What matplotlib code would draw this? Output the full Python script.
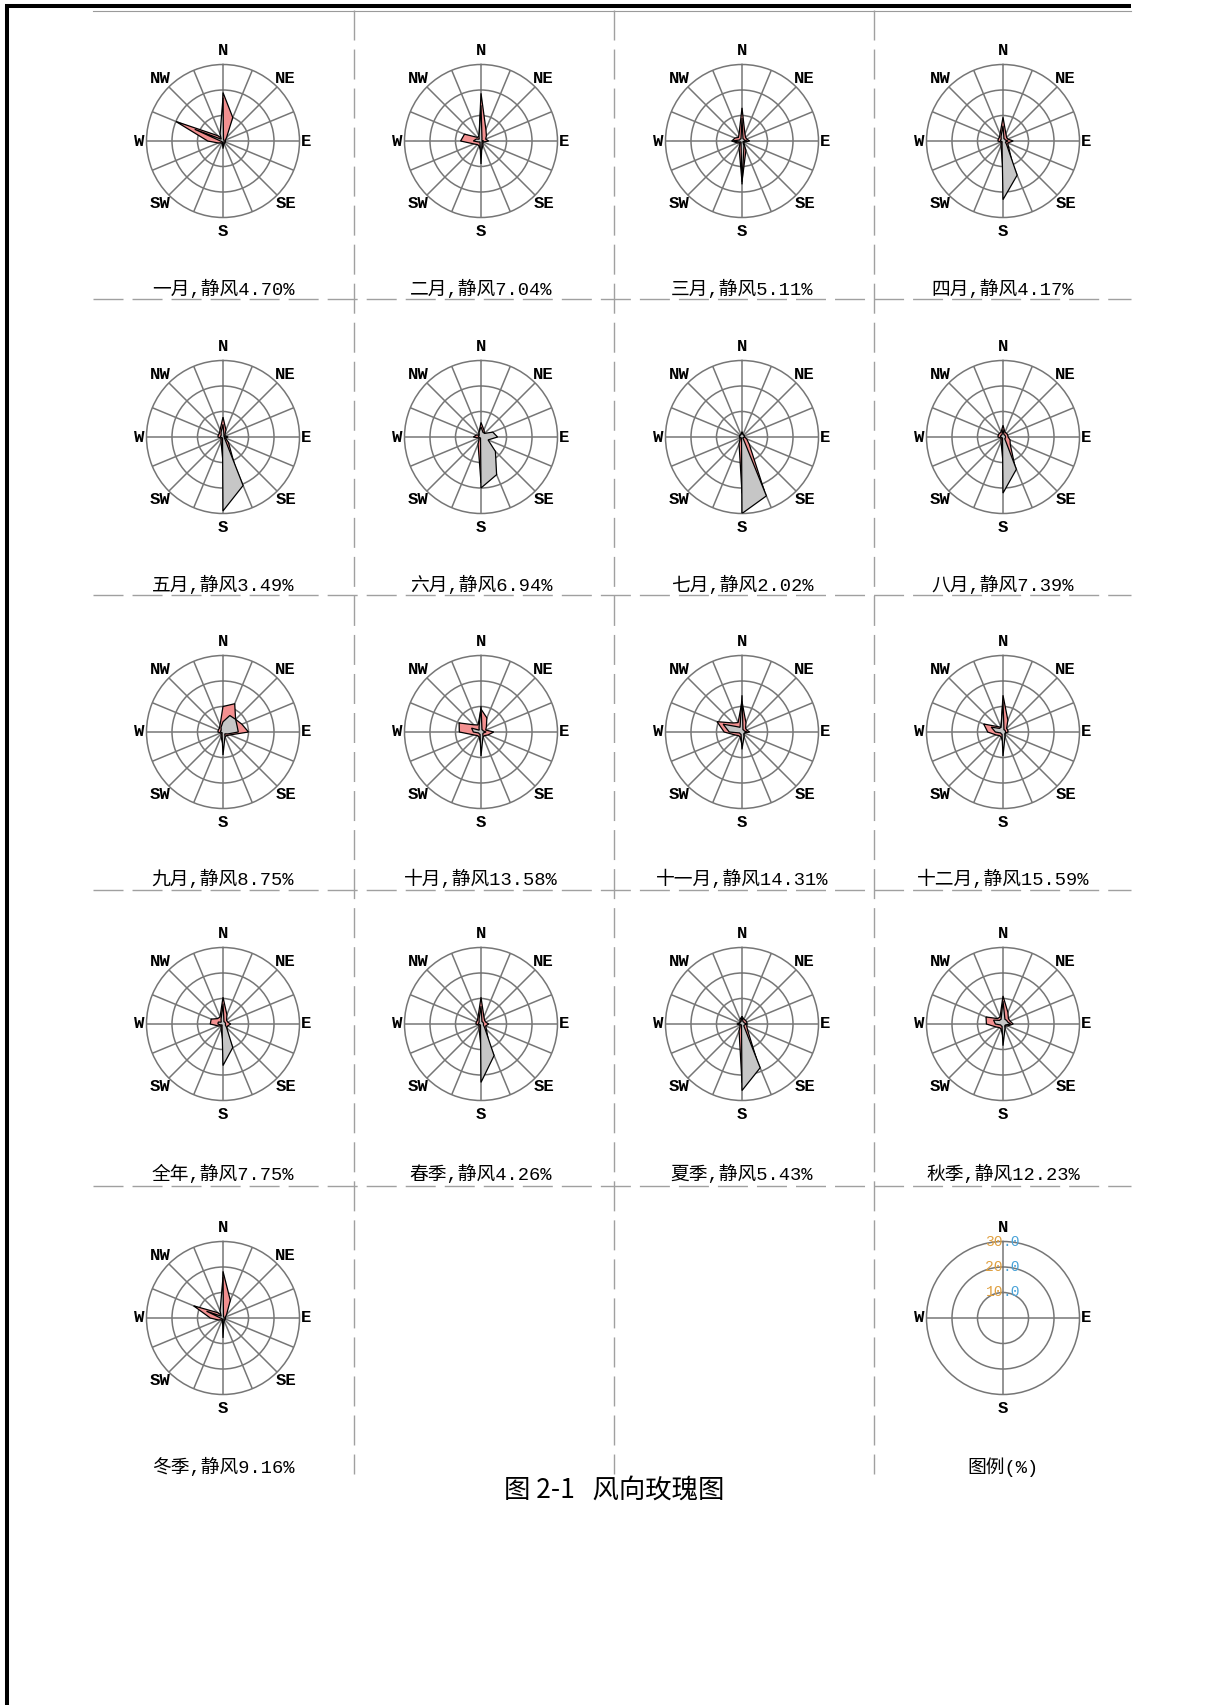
import numpy as np
import matplotlib
matplotlib.use("Agg")
import matplotlib.pyplot as plt

plt.rcParams["lines.scale_dashes"] = False

# ---------------- data ----------------
directions = ["N", "NNE", "NE", "ENE", "E", "ESE", "SE", "SSE",
              "S", "SSW", "SW", "WSW", "W", "WNW", "NW", "NNW"]
periods = ["一月", "二月", "三月", "四月", "五月", "六月", "七月", "八月",
           "九月", "十月", "十一月", "十二月", "全年", "春季", "夏季", "秋季", "冬季"]
calm_pct = [4.70, 7.04, 5.11, 4.17, 3.49, 6.94, 2.02, 7.39,
            8.75, 13.58, 14.31, 15.59, 7.75, 4.26, 5.43, 12.23, 9.16]

# series A (pink) and series B (grey), frequency in %, N clockwise
pink_jan = [19, 10, 2, 1, 1, 1, 1, 1, 2, 1, 1, 2, 6, 20, 3, 1]
gray_jan = [17, 0.5, 0.5, 0.5, 0.5, 0.5, 0.5, 1, 3, 0.5, 0.5, 0.5, 1, 12, 1, 3]
pink_feb = [18.7, 5, 3, 2, 3, 1, 1, 2, 4, 2, 2, 3, 8, 7, 2, 2]
gray_feb = [14, 1, 0.5, 0.5, 1, 0.5, 0.5, 1, 9, 1, 0.5, 1, 3, 2, 1, 2]
pink_mar = [13, 3, 2, 2, 3, 1, 1, 4, 16, 3, 1, 2, 4, 3, 2, 3]
gray_mar = [9, 1, 1, 1, 2, 0.5, 0.5, 2, 17, 1, 0.5, 1, 4, 1, 1, 1]
pink_apr = [9.3, 3, 2, 2, 4, 2, 3, 10, 12, 2, 1, 1, 2, 2, 2, 3]
gray_apr = [6, 1, 1, 1, 2, 1, 2, 14.5, 23, 1, 0.5, 0.5, 1, 1, 1, 2]
pink_may = [7.8, 3, 1, 1, 2, 1, 3, 12, 10, 2, 1, 1, 2, 2, 2, 3]
gray_may = [5, 1, 0.5, 0.5, 1, 0.5, 1, 20.6, 29, 0.5, 0.5, 0.5, 1, 1, 1, 2]
pink_jun = [5.7, 3, 2, 3, 3, 2, 3, 6, 18, 3, 1, 1, 3, 2, 1, 2]
gray_jun = [4, 2, 2, 5, 6.5, 3, 8, 16, 20, 0.5, 0.5, 0.5, 1, 1, 1, 2]
pink_jul = [2, 1, 1, 1, 1, 2, 4, 23, 22, 3, 1, 1, 1, 1, 1, 1]
gray_jul = [2, 1, 1, 1, 1, 0.5, 0.5, 25, 30, 0.5, 0.5, 0.5, 1, 1, 1, 1]
pink_aug = [4.6, 2, 2, 2, 2, 3, 4, 12, 10, 2, 1, 1, 2, 2, 2, 2]
gray_aug = [3, 1, 1, 1, 1, 1, 1, 13.7, 22, 0.5, 0.5, 0.5, 1, 1, 1, 1]
pink_sep = [10, 12, 7, 8, 10, 3, 2, 2, 5, 2, 1, 1, 2, 2, 2, 3]
gray_sep = [4, 7, 7, 6, 6, 2, 1, 2, 9, 1, 0.5, 0.5, 1, 1, 1, 2]
pink_oct = [9, 6, 3, 2, 5, 3, 2, 2, 5, 2, 2, 3, 8.5, 9.3, 4, 3]
gray_oct = [10.2, 1, 1, 1, 2, 1, 1, 2, 9.4, 1, 1, 1, 3, 4, 1, 2]
pink_nov = [12, 4, 2, 2, 3, 1, 1, 2, 5, 2, 2, 3, 7, 10.6, 5, 4]
gray_nov = [14.4, 1, 1, 1, 2, 1, 1, 2, 6.8, 1, 1, 1, 5, 8, 3, 2]
pink_dec = [14.4, 5, 2, 2, 2, 1, 1, 2, 4, 2, 2, 3, 6, 8.2, 3, 2]
gray_dec = [12, 1, 1, 1, 1, 1, 1, 2, 9.4, 1, 1, 1, 3, 5, 2, 2]
pink_year = [10.5, 4, 2, 2, 3, 2, 2, 6, 7, 2, 1, 2, 5, 5, 3, 3]
gray_year = [8, 1, 1, 1, 1, 1, 2, 10, 16.3, 1, 0.5, 1, 2, 2, 1, 2]
pink_spring = [10.5, 3, 2, 2, 3, 2, 3, 8, 9, 2, 1, 1, 2, 2, 2, 3]
gray_spring = [7, 1, 1, 1, 1, 1, 2, 13.4, 22.9, 0.5, 0.5, 0.5, 1, 1, 1, 2]
pink_summer = [3, 2, 2, 2, 2, 2, 3, 15, 23, 3, 1, 1, 2, 1, 1, 2]
gray_summer = [3, 1, 1, 1, 2, 1, 1, 18.6, 26.1, 0.5, 0.5, 0.5, 1, 1, 1, 1]
pink_autumn = [11, 5, 3, 3, 4, 2, 1, 2, 5, 2, 2, 3, 6.5, 7.2, 3, 3]
gray_autumn = [9, 2, 2, 2, 3, 1, 1, 2, 8.5, 1, 1, 1, 3, 4, 2, 2]
pink_winter = [18.3, 7.5, 2, 1, 1, 1, 1, 1, 3, 1, 1, 2, 5, 12.5, 3, 1]
gray_winter = [16, 0.5, 0.5, 0.5, 0.5, 0.5, 0.5, 1, 7.8, 0.5, 0.5, 0.5, 1, 7, 1, 3]

ring_values = [10, 20, 30]
legend_label = "图例(%)"
title_text = "图 2-1   风向玫瑰图"

pink_all = [pink_jan, pink_feb, pink_mar, pink_apr, pink_may, pink_jun, pink_jul,
            pink_aug, pink_sep, pink_oct, pink_nov, pink_dec, pink_year,
            pink_spring, pink_summer, pink_autumn, pink_winter]
gray_all = [gray_jan, gray_feb, gray_mar, gray_apr, gray_may, gray_jun, gray_jul,
            gray_aug, gray_sep, gray_oct, gray_nov, gray_dec, gray_year,
            gray_spring, gray_summer, gray_autumn, gray_winter]

# ---------------- layout ----------------
W, H = 1215, 1705
fig = plt.figure(figsize=(W / 100, H / 100), dpi=100)
fig.patch.set_facecolor("white")

bg = fig.add_axes([0, 0, 1, 1])
bg.set_xlim(0, W)
bg.set_ylim(H, 0)
bg.axis("off")

col_x = [223, 481, 742, 1003]
row_y = [141, 437, 732, 1024, 1318]
cap_y = [289, 585, 879, 1174, 1467]
hline_y = [299, 595, 890, 1186]
vline_x = [354, 614, 874]

# page frame
bg.plot([6.5, 6.5], [4, H], color="black", lw=2.9, solid_capstyle="butt")
bg.plot([5, 1131], [6, 6], color="black", lw=2.9, solid_capstyle="butt")
bg.plot([93, 1131], [10.5, 10.5], color="#9a9a9a", lw=0.8)
for x in vline_x:
    bg.plot([x, x], [10, 1474], color="#a0a0a0", lw=1.0, dashes=(21.6, 6.5))
for y in hline_y:
    bg.plot([93, 1131], [y, y], color="#a0a0a0", lw=1.0, dashes=(21.6, 6.5))

R = 76.5  # px radius of outer ring
GRID = "#767676"
lab_font = dict(family="Liberation Mono", fontweight="bold", fontsize=12.5)
cap_font = dict(family=["Liberation Mono", "Noto Sans CJK SC"], fontsize=13.5)


def make_axes(cx, cy):
    ax = fig.add_axes([(cx - R) / W, 1 - (cy + R) / H, 2 * R / W, 2 * R / H],
                      projection="polar")
    ax.set_theta_zero_location("N")
    ax.set_theta_direction(-1)
    ax.set_ylim(0, ring_values[-1])
    ax.set_yticks(ring_values[:-1])
    ax.set_yticklabels([])
    ax.set_axisbelow(True)
    ax.grid(True, color=GRID, lw=1.1)
    ax.spines["polar"].set_color(GRID)
    ax.spines["polar"].set_linewidth(1.1)
    ax.tick_params(length=0, pad=0)
    return ax


theta16 = np.deg2rad(np.arange(len(directions)) * 22.5)
label_r = {"N": 35.3, "S": 35.6, "E": 32.5, "W": 33.0,
           "NE": 34.6, "SE": 34.8, "SW": 34.8, "NW": 34.6}

n_full = len(periods)
for i in range(n_full):
    r, c = divmod(i, 4)
    cx, cy = col_x[c], row_y[r]
    ax = make_axes(cx, cy)
    ax.set_xticks(theta16)
    ax.set_xticklabels([])
    t = np.append(theta16, theta16[0])
    p = np.array(pink_all[i] + pink_all[i][:1])
    g = np.array(gray_all[i] + gray_all[i][:1])
    ax.fill(t, p, facecolor="#f39090", edgecolor="black", lw=0.9, zorder=3)
    ax.fill(t, g, facecolor="#c6c6c6", edgecolor="black", lw=0.9, zorder=4)
    for k, d in enumerate(directions):
        if d in label_r:
            ax.text(theta16[k], label_r[d], d, ha="center", va="center",
                    clip_on=False, **lab_font)
    bg.text(cx, cap_y[r], f"{periods[i]},静风{calm_pct[i]:.2f}%",
            ha="center", va="center", **cap_font)

# legend rose
lx, ly = col_x[3], row_y[4]
lax = make_axes(lx, ly)
lax.set_xticks(np.deg2rad([0, 90, 180, 270]))
lax.set_xticklabels([])
for k, d in enumerate(directions):
    if d in ("N", "E", "S", "W"):
        lax.text(theta16[k], label_r[d], d, ha="center", va="center",
                 clip_on=False, **lab_font)
for v in ring_values:
    s = f"{v:.1f}"
    ip, fp = s.split(".")
    lax.text(0, v, ip, ha="right", va="center", color="#e0a040",
             family="Liberation Mono", fontsize=10.5, zorder=10, clip_on=False)
    lax.text(0, v, "." + fp, ha="left", va="center", color="#4aa3d8",
             family="Liberation Mono", fontsize=10.5, zorder=10, clip_on=False)
bg.text(lx, cap_y[4], legend_label, ha="center", va="center", **cap_font)

# figure title
bg.text(614, 1490, title_text, ha="center", va="center",
        family=["Noto Sans CJK SC"], fontsize=19)

fig.savefig("out.png", dpi=100, facecolor="white")
